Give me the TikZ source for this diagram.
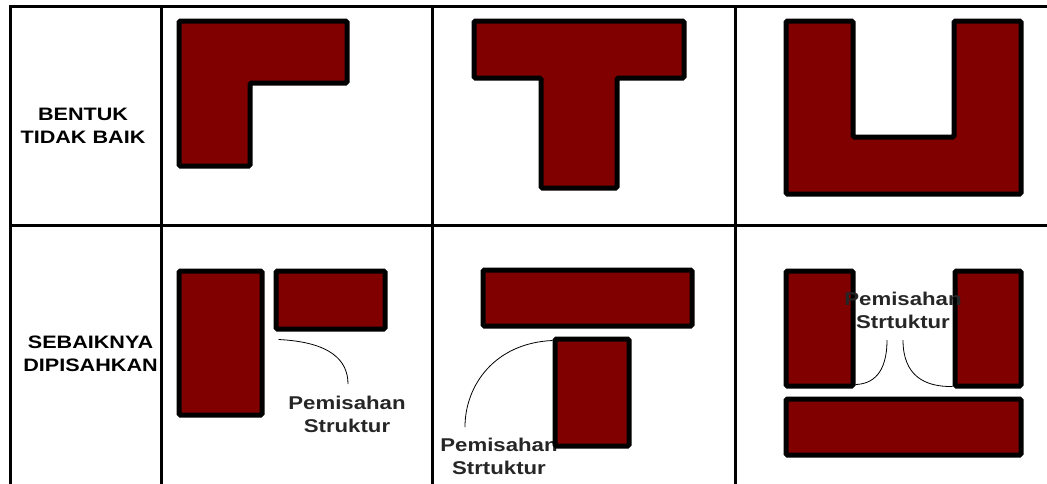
\documentclass[tikz,border=0pt]{standalone}
\usepackage{fontspec}
\usetikzlibrary{positioning}
\newfontfamily\tablefont[FakeStretch=1.2]{Liberation Sans}
\definecolor{wallred}{RGB}{128,0,0}
\tikzset{
  wall/.style    = {draw=black, line width=5pt, fill=wallred, rounded corners=1.5pt},
  block/.style   = {wall, rectangle, inner sep=0pt},
  gridline/.style = {line width=3pt, line cap=rect},
  rowlbl/.style  = {align=center, inner sep=0pt,
                    font=\tablefont\bfseries\fontsize{18}{23}\selectfont},
  seplbl/.style  = {align=center, inner sep=0pt, text=black!85,
                    font=\tablefont\bfseries\fontsize{18.5}{23}\selectfont},
  link/.style    = {line width=0.8pt},
}

\begin{document}
\begin{tikzpicture}[x=1pt, y=-1pt]
  \useasboundingbox (0,0) rectangle (1047,483);

  % table lines
  \draw[gridline] (10,483) -- (10,6) -- (1047,6);
  \draw[gridline] (10,225) -- (1047,225);
  \foreach \cx in {161, 432, 735} {
    \draw[gridline] (\cx,6) -- (\cx,483);
  }

  % row headings
  \node[rowlbl] (bad) at (83,126) {BENTUK\\TIDAK BAIK};
  \node[rowlbl] (good) at (90.5,354) {SEBAIKNYA\\DIPISAHKAN};

  % first row, bad shapes
  \draw[wall] (179,21) -- (347,21) -- (347,83) -- (250,83) -- (250,166) -- (179,166) -- cycle;
  \draw[wall] (474,21) -- (684,21) -- (684,78) -- (617,78) -- (617,188) -- (541,188) -- (541,78) -- (474,78) -- cycle;
  \draw[wall] (786,21) -- (853,21) -- (853,137) -- (954,137) -- (954,21) -- (1021,21) -- (1021,194) -- (786,194) -- cycle;

  % second row, L split
  \node[block, minimum width=83pt, minimum height=144pt] (legA) at (220.5,343) {};
  \node[block, minimum width=109pt, minimum height=58pt] (armA) at (330.5,300) {};
  \node[seplbl] (sepA) at (347,414) {Pemisahan\\Struktur};
  \coordinate (endA) at (348,384);
  \draw[link] ([shift={(5,8)}]armA.south west) .. controls (330,342) and (348,360) .. (endA);

  % second row, T split
  \node[seplbl] (sepB) at (499,456) {Pemisahan\\Strtuktur};
  \node[block, minimum width=209pt, minimum height=56pt] (barB) at (587.5,298) {};
  \node[block, minimum width=74pt, minimum height=107pt] (stemB) at (592,392.5) {};
  \coordinate (endB) at (465,427);
  \draw[link] ([shift={(0,4)}]stemB.north west) .. controls (495,343) and (465,385) .. (endB);

  % second row, U split
  \node[block, minimum width=67pt, minimum height=115pt] (leftC) at (819.5,328.5) {};
  \node[block, minimum width=66pt, minimum height=115pt] (rightC) at (988,328.5) {};
  \node[block, minimum width=235pt, minimum height=56pt] (baseC) at (903.5,427) {};
  \node[seplbl] (sepC) at (903,310) {Pemisahan\\Strtuktur};
  \coordinate (endC1) at (887,340);
  \coordinate (endC2) at (903,340);
  \draw[link] (endC1) .. controls (887,374) and (872,384) .. ([shift={(0,-4)}]leftC.south east);
  \draw[link] (endC2) .. controls (903,376) and (925,387) .. ([shift={(0,-2)}]rightC.south west);
\end{tikzpicture}
\end{document}
